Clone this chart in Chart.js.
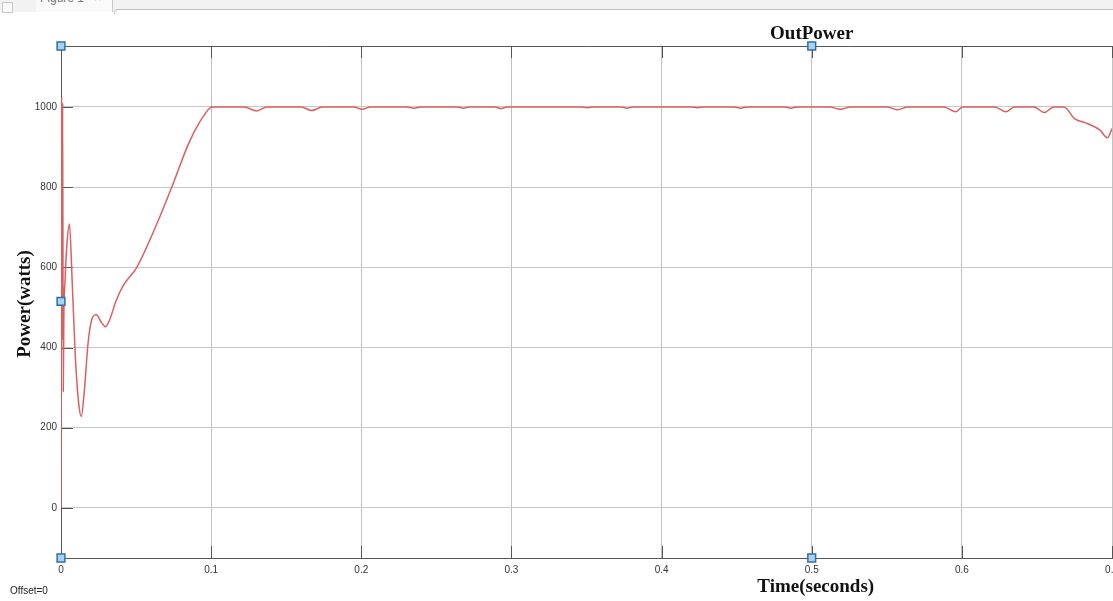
<!DOCTYPE html>
<html>
<head>
<meta charset="utf-8">
<title>OutPower</title>
<script src="https://cdn.jsdelivr.net/npm/chart.js@4.4.1/dist/chart.umd.min.js"></script>
<style>
  body { margin: 0; background: #fff; }
  #wrap { position: relative; width: 1113px; height: 601px; overflow: hidden; }
  #strip { position: absolute; left: 0; top: 0; width: 1113px; height: 12px; background: #f2f2f2; }
  #tab { position: absolute; left: 36px; top: 0; width: 76px; height: 12px; background: #fafafa;
         border-right: 1px solid #c8c8c8; font: 12px "Liberation Sans", Arial, sans-serif; color: #777; overflow: hidden; }
  #tab span { position: absolute; left: 4px; top: -9px; white-space: nowrap; }
  #pane { position: absolute; left: 114px; top: 9px; width: 1010px; height: 4px; background: #fff;
          border-top: 1px solid #c0c0c0; border-left: 1px solid #c0c0c0; border-top-left-radius: 4px; }
  #box { position: absolute; left: 2px; top: 2px; width: 9px; height: 9px; border: 1px solid #c8c8c8; background: #fafafa; }
  #holder { position: absolute; left: 0; top: 0; width: 1125px; height: 601px; }
</style>
</head>
<body>
<div id="wrap">
  <div id="strip"></div>
  <div id="box"></div>
  <div id="tab"><span>Figure 1&nbsp;&nbsp;&nbsp;×</span></div>
  <div id="pane"></div>
  <div id="holder"><canvas id="chart" width="1125" height="601" style="width:1125px;height:601px"></canvas></div>
</div>
<script>
// time axis (s) and output power (W)
const timeSec = [
  0, 0.0004, 0.0008, 0.0011, 0.0015, 0.0019, 0.0027, 0.004, 0.0056, 0.0075,
  0.0095, 0.0118, 0.0135, 0.0155, 0.018, 0.0205, 0.0235, 0.027, 0.0295, 0.0325,
  0.0365, 0.0415, 0.0505, 0.0638, 0.0738, 0.0849, 0.092, 0.0993, 0.1005, 0.122,
  0.1305, 0.137, 0.16, 0.167, 0.174, 0.195, 0.2005, 0.206, 0.23, 0.235,
  0.24, 0.264, 0.268, 0.272, 0.289, 0.293, 0.297, 0.346, 0.3504, 0.355,
  0.373, 0.377, 0.381, 0.42, 0.424, 0.428, 0.448, 0.4527, 0.457, 0.482,
  0.486, 0.49, 0.512, 0.519, 0.526, 0.55, 0.557, 0.564, 0.588, 0.596,
  0.6005, 0.622, 0.6293, 0.635, 0.648, 0.655, 0.661, 0.668, 0.675, 0.684,
  0.692, 0.697, 0.7
];
const powerW = [
  0, 1025, 420, 1010, 290, 480, 567, 660, 708, 560,
  380, 260, 228, 290, 410, 470, 482, 462, 452, 470,
  515, 555, 600, 708, 800, 908, 960, 998, 1000, 1000,
  990, 1000, 1000, 991, 1000, 1000, 994, 1000, 1000, 997,
  1000, 1000, 997, 1000, 1000, 996, 1000, 1000, 998, 1000,
  1000, 997, 1000, 1000, 998, 1000, 1000, 997, 1000, 1000,
  997, 1000, 1000, 994, 1000, 1000, 993, 1000, 1000, 988,
  1000, 1000, 988, 1000, 1000, 986, 1000, 1000, 971, 958,
  942, 923, 946
];
// data cursor markers
const cursorT = [0, 0, 0, 0.5, 0.5];
const cursorP = [1152, 515, -125, 1152, -125];

const xTicks = [0, 0.1, 0.2, 0.3, 0.4, 0.5, 0.6, 0.7];
const yTicks = [0, 200, 400, 600, 800, 1000];

const plotTitle = 'OutPower';
const xTitle = 'Time(seconds)';
const yTitle = 'Power(watts)';
const offsetText = 'Offset=0';

const scopeDecor = {
  id: 'scopeDecor',
  beforeDatasetsDraw(chart) {
    const { ctx, chartArea: { left, right, top, bottom }, scales: { x, y } } = chart;
    ctx.save();
    ctx.strokeStyle = '#555';
    ctx.lineWidth = 1;
    ctx.beginPath();
    ctx.moveTo(left, top + 0.5);
    ctx.lineTo(right, top + 0.5);
    yTicks.forEach(v => {
      const py = Math.round(y.getPixelForValue(v)) + 0.5;
      ctx.moveTo(left, py);
      ctx.lineTo(left + 12, py);
    });
    xTicks.forEach(v => {
      const px = Math.round(x.getPixelForValue(v)) + 0.5;
      ctx.moveTo(px, bottom);
      ctx.lineTo(px, bottom - 12);
      ctx.moveTo(px, top);
      ctx.lineTo(px, top + 12);
    });
    ctx.stroke();
    ctx.restore();
  },
  afterDraw(chart) {
    const { ctx, chartArea: { top, bottom }, scales: { x } } = chart;
    ctx.save();
    ctx.fillStyle = '#111';
    ctx.textAlign = 'center';
    ctx.textBaseline = 'alphabetic';
    ctx.font = 'bold 19px "Liberation Serif", "Times New Roman", serif';
    ctx.fillText(plotTitle, x.getPixelForValue(0.5), top - 7);
    ctx.fillText(xTitle, x.getPixelForValue(0.5) + 4, bottom + 34);
    ctx.translate(25, 304);
    ctx.rotate(-Math.PI / 2);
    ctx.textBaseline = 'middle';
    ctx.fillText(yTitle, 0, 0);
    ctx.restore();
    ctx.save();
    ctx.fillStyle = '#222';
    ctx.font = '10px "Liberation Sans", Arial, sans-serif';
    ctx.textAlign = 'left';
    ctx.textBaseline = 'middle';
    ctx.fillText(offsetText, 10, 591);
    ctx.restore();
  }
};

new Chart(document.getElementById('chart'), {
  type: 'line',
  data: {
    datasets: [
      {
        type: 'scatter',
        data: cursorT.map((t, i) => ({ x: t, y: cursorP[i] })),
        pointStyle: 'rect',
        pointRadius: 5.5,
        backgroundColor: '#a9d2f0',
        borderColor: '#2f6fa8',
        borderWidth: 1.5,
        clip: false,
        order: 0
      },
      {
        data: timeSec.map((t, i) => ({ x: t, y: powerW[i] })),
        borderColor: '#dc5f5f',
        borderWidth: 1.5,
        pointRadius: 0,
        cubicInterpolationMode: 'monotone',
        fill: false,
        order: 1
      }
    ]
  },
  options: {
    responsive: false,
    animation: false,
    layout: { padding: { left: 0, top: 46, right: 8, bottom: 0 } },
    plugins: { legend: { display: false }, tooltip: { enabled: false } },
    scales: {
      x: {
        type: 'linear',
        min: 0,
        max: 0.7,
        afterBuildTicks: s => { s.ticks = xTicks.map(v => ({ value: v })); },
        afterFit: s => { s.height = 43; },
        grid: { color: '#c2c2c2', drawTicks: false },
        border: { color: '#555' },
        ticks: {
          padding: 6,
          maxRotation: 0,
          color: '#333',
          font: { family: '"Liberation Sans", Arial, sans-serif', size: 10 },
          callback: v => String(v)
        }
      },
      y: {
        min: -125,
        max: 1152,
        afterBuildTicks: s => { s.ticks = yTicks.map(v => ({ value: v })); },
        afterFit: s => { s.width = 61; },
        grid: { color: '#c8c8c8', drawTicks: false },
        border: { color: '#555' },
        ticks: {
          padding: 4,
          color: '#333',
          font: { family: '"Liberation Sans", Arial, sans-serif', size: 10 },
          callback: v => String(v)
        }
      }
    }
  },
  plugins: [scopeDecor]
});
</script>
</body>
</html>
